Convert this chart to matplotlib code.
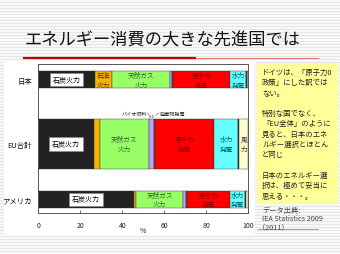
import numpy as np
import matplotlib
matplotlib.use('Agg')
import matplotlib.pyplot as plt
from matplotlib.patches import Rectangle

plt.rcParams['font.family'] = ['Noto Sans CJK JP', 'DejaVu Sans']

# ---------------- data ----------------
categories = ['日本', 'EU合計', 'アメリカ']
sources = ['石炭火力', '石油火力', '天然ガス火力', 'バイオ燃料', '廃棄物発電',
           '原子力発電', '水力発電', '地熱', '風力', '太陽光']
japan = [26.9, 8.3, 27.4, 1.0, 0.6, 27.3, 7.6, 0.3, 0.3, 0.3]
eu = [26.5, 3.0, 23.0, 2.5, 0.8, 27.9, 11.3, 0.5, 4.5, 0.0]
usa = [45.6, 0.9, 22.6, 1.3, 0.5, 20.5, 7.0, 0.4, 1.2, 0.0]
x_ticks = [0, 20, 40, 60, 80, 100]

seg_labels = {
    '日本': {0: '石炭火力', 1: '石油\n火力', 2: '天然ガス\n火力', 5: '原子力\n発電', 6: '水力\n発電'},
    'EU合計': {0: '石炭火力', 2: '天然ガス\n火力', 5: '原子力\n発電', 6: '水力\n発電', 8: '風\n力'},
    'アメリカ': {0: '石炭火力', 2: '天然ガス\n火力', 5: '原子力\n発電', 6: '水力\n発電'},
}
small_note_left = 'バイオ燃料'
small_note_mid = '0.0'
small_note_right = '廃棄物発電'

title = 'エネルギー消費の大きな先進国では'
note_lines = ['ドイツは、「原子力0', '政策」にした訳では', 'ない。', '',
              '特別な国でなく、', '「EU全体」のように', '見ると、日本のエネ',
              'ルギー選択とほとん', 'ど同じ', '',
              '日本のエネルギー選', '択は、極めて妥当に', '思える・・・。']
source_lines = ['データ出典:', 'IEA Statistics 2009', '（2011）']

# ---------------- styles ----------------
colors = ['#222222', '#f5b400', '#99ff66', '#cc99ff', '#1a6b1a',
          '#ff0000', '#66ffff', '#5c1030', '#ffffcc', '#ff9966']
label_colors = ['#000000', '#5a3000', '#2f5f2f', '#000000', '#000000',
                '#8b0000', '#005f6b', '#000000', '#333333', '#000000']
bar_centers = [80.7, 145.0, 200.3]
bar_heights = [16.7, 50.0, 16.5]

W, H = 340, 255
fig = plt.figure(figsize=(W / 100, H / 100), dpi=100)

# background slide
bg = fig.add_axes([0, 0, 1, 1], zorder=0)
rows = np.where(np.arange(H) % 3 == 0, 0.90, 0.97)
pattern = np.repeat(rows[:, None], W, axis=1)
bg.imshow(pattern, cmap='gray', vmin=0, vmax=1, extent=[0, W, H, 0],
          aspect='auto', interpolation='nearest')
bg.set_xlim(0, W)
bg.set_ylim(H, 0)
bg.axis('off')
bg.add_patch(Rectangle((4, 62), 251, 174, facecolor='white', edgecolor='none'))
bg.add_patch(Rectangle((257, 64), 81, 141, facecolor='#ffff99', edgecolor='none'))
bg.plot([23, 196], [58.5, 58.5], color='#c00000', lw=1.6, solid_capstyle='butt')
bg.plot([196, 319], [58.5, 58.5], color='#e07070', lw=0.7, solid_capstyle='butt')
bg.text(25, 40, title, fontsize=12.4, va='center', ha='left', color='#111111')
for i, line in enumerate(note_lines):
    if line:
        bg.text(262, 73 + i * 10.3, line, fontsize=5.3, va='center', ha='left', color='#222222')
src_y = [211, 219, 227]
src_x = [262, 262, 258]
for x, y, line in zip(src_x, src_y, source_lines):
    bg.text(x, y, line, fontsize=5.2, va='center', ha='left', color='#444444')
bg.plot([258, 318], [230, 230], color='#c08080', lw=0.6)

# chart
ax = fig.add_axes([38.3 / W, 1 - 214 / H, 210 / W, 149 / H], zorder=2)
ax.set_xlim(0, 100)
ax.set_ylim(214, 65)

data = [japan, eu, usa]
for ci, (cat, vals) in enumerate(zip(categories, data)):
    vals = np.array(vals)
    left = np.concatenate([[0], np.cumsum(vals)[:-1]])
    keep = vals > 0
    ax.barh([bar_centers[ci]] * keep.sum(), vals[keep], left=left[keep],
            height=bar_heights[ci], color=np.array(colors)[keep],
            edgecolor='#333333', linewidth=0.3, zorder=2)
    for si, lab in seg_labels[cat].items():
        xc = left[si] + vals[si] / 2
        if si == 0:
            ax.text(xc, bar_centers[ci], lab, ha='center', va='center', fontsize=5.0,
                    color='#000000', zorder=4,
                    bbox=dict(boxstyle='square,pad=0.4', facecolor='white',
                              edgecolor='#888888', linewidth=0.5))
        else:
            ax.text(xc, bar_centers[ci], lab, ha='center', va='center', fontsize=4.8,
                    color=label_colors[si], linespacing=1.25, zorder=4)

# small annotation above EU bar (bio fuel / waste)
eu_arr = np.array(eu)
eu_left = np.concatenate([[0], np.cumsum(eu_arr)[:-1]])
bio_c = eu_left[3] + eu_arr[3] / 2
waste_c = eu_left[4] + eu_arr[4] / 2
top = bar_centers[1] - bar_heights[1] / 2
mid = (bio_c + waste_c) / 2 - 0.6
ax.text(bio_c - 2.0, top - 6, small_note_left, fontsize=3.7, ha='right', va='center', color='#222222')
ax.text(mid, top - 3.0, small_note_mid, fontsize=3.0, ha='center', va='center', color='#222222')
ax.text(waste_c + 2.3, top - 6, small_note_right, fontsize=3.7, ha='left', va='center', color='#222222')
ax.plot([bio_c - 1.9, bio_c - 0.9], [top - 6, top - 4], color='#555555', lw=0.4)
ax.plot([waste_c + 0.6, waste_c + 2.1], [top - 4, top - 6], color='#555555', lw=0.4)

ax.set_xticks(x_ticks)
ax.set_xticklabels([str(t) for t in x_ticks])
ax.set_yticks(bar_centers)
ax.set_yticklabels(categories)
ax.tick_params(axis='x', direction='in', length=2.5, width=0.6, color='#555555',
               labelsize=5, pad=5.5, labelcolor='#222222')
ax.tick_params(axis='y', length=0, pad=4.5, labelsize=5.3, labelcolor='#111111')
for sp in ax.spines.values():
    sp.set_color('#555555')
    sp.set_linewidth(0.7)
ax.set_xlabel('%', fontsize=5, color='#222222')
ax.xaxis.set_label_coords(0.5, -0.085)

fig.savefig('out.png', dpi=100)
